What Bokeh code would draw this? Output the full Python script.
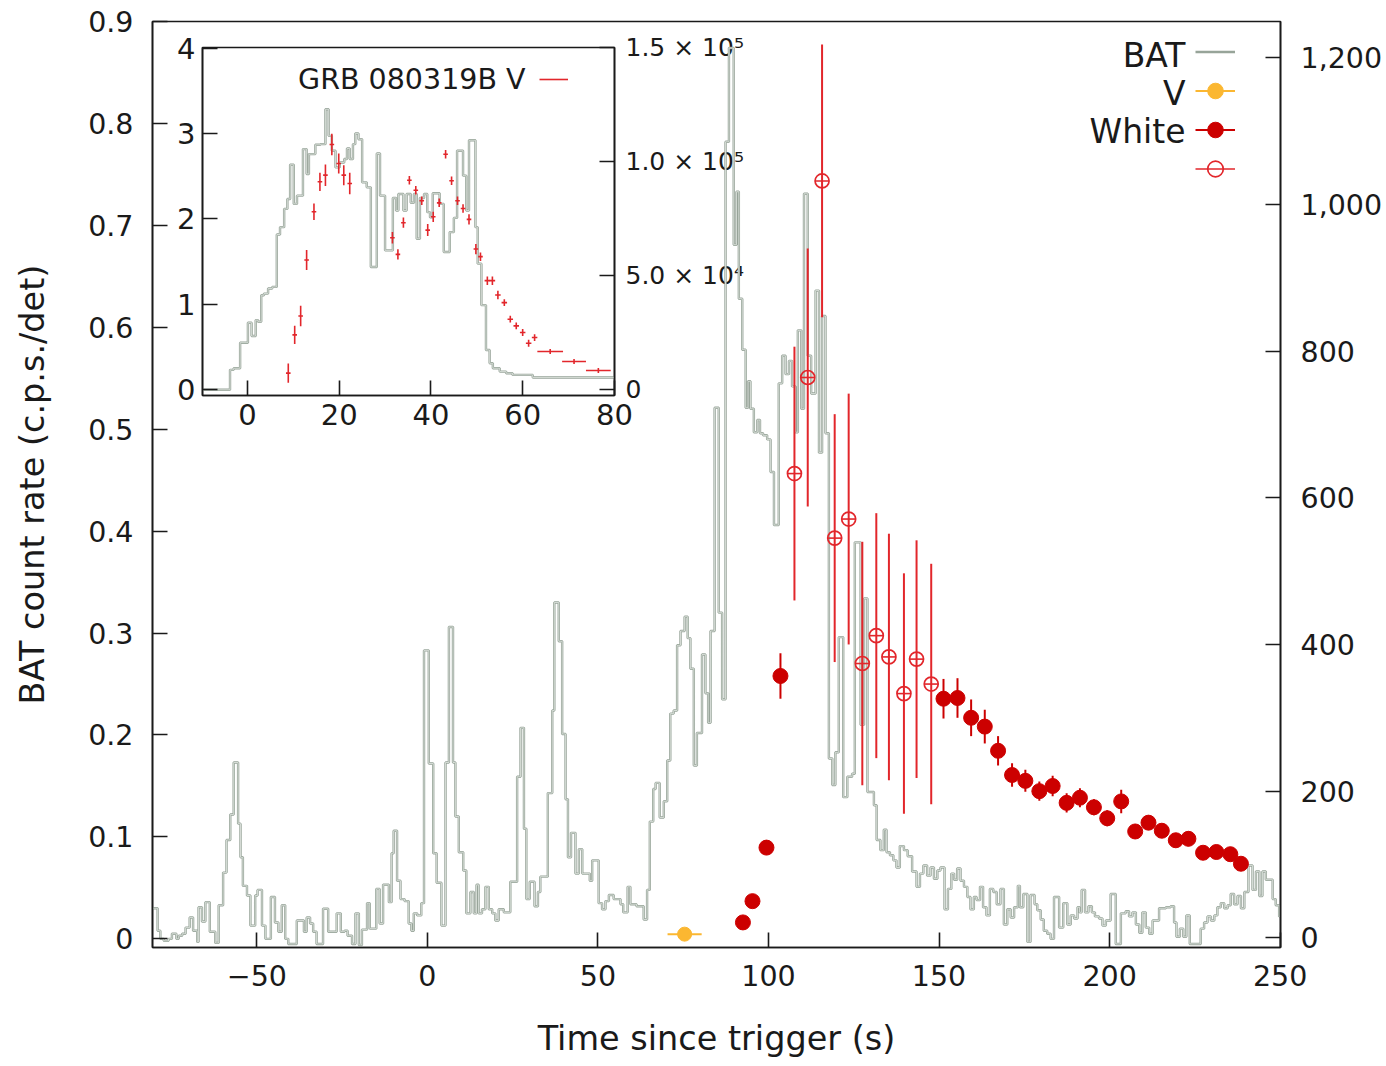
from bokeh.plotting import figure
from bokeh.models import Range1d, LinearAxis, FixedTicker, Legend, LegendItem, Label
from bokeh.layouts import row
from bokeh.embed import file_html
from bokeh.resources import INLINE

FONT = "DejaVu Sans"

# ---------------- main panel data ----------------
# BAT light curve (step start time [s], count rate [c.p.s./det])
bat_main = [
    (-81, 0.03), (-79.1, 0.008), (-78.3, 0.0), (-77.3, -0.002), (-75.9, 0.0), (-74.9, 0.005),
    (-73.6, 0.0), (-72.9, 0.003), (-71.9, 0.005), (-70.9, 0.011), (-69.7, 0.021), (-68.7, 0.008),
    (-67.5, -0.003), (-67.1, 0.031), (-66.1, 0.017), (-65.1, 0.036), (-63.8, 0.007), (-62.2, -0.004),
    (-61.2, 0.033), (-59.9, 0.065), (-58.9, 0.097), (-57.8, 0.122), (-56.8, 0.173), (-55.5, 0.113),
    (-54.8, 0.08), (-54.1, 0.052), (-52.9, 0.0425), (-51.9, 0.013), (-50.5, 0.0425), (-49.8, 0.048),
    (-48.5, 0.013), (-47.5, 0.0), (-45.9, 0.041), (-44.7, 0.016), (-43.7, 0.007), (-42.7, 0.033),
    (-41.7, 0.0), (-40.8, -0.005), (-38.3, 0.018), (-36.2, 0.007), (-35.4, 0.021), (-34.4, 0.015),
    (-33.5, 0.007), (-32.5, -0.005), (-30.6, 0.0295), (-29.1, 0.007), (-26.6, 0.025), (-25.4, 0.007),
    (-24.3, 0.008), (-23.4, 0.003), (-22.1, -0.005), (-21.1, 0.025), (-20.1, -0.006), (-19.2, 0.009),
    (-17.7, 0.035), (-16.9, 0.01), (-15.0, 0.049), (-14.0, 0.015), (-13.0, 0.053), (-11.3, 0.036),
    (-10.5, 0.084), (-9.9, 0.106), (-8.9, 0.057), (-7.9, 0.039), (-6.7, 0.037), (-5.5, 0.015),
    (-4.7, 0.008), (-4.0, 0.025), (-3.0, 0.023), (-1.8, 0.035), (-1.0, 0.283), (0.4, 0.172),
    (1.7, 0.084), (2.7, 0.055), (4.1, 0.013), (5.3, 0.173), (6.3, 0.306), (7.5, 0.173),
    (8.2, 0.12), (9.2, 0.085), (10.5, 0.067), (11.4, 0.025), (12.6, 0.046), (13.6, 0.025),
    (14.4, 0.053), (15.0, 0.025), (16.0, 0.029), (17.0, 0.051), (18.0, 0.029), (19.0, 0.025),
    (19.9, 0.018), (20.9, 0.029), (22.4, 0.026), (24.3, 0.056), (26.3, 0.159), (27.3, 0.207),
    (28.3, 0.108), (29.0, 0.039), (30.0, 0.056), (31.4, 0.032), (32.4, 0.046), (33.1, 0.061),
    (35.3, 0.143), (36.6, 0.224), (37.2, 0.33), (38.5, 0.292), (39.5, 0.201), (40.5, 0.137),
    (41.2, 0.08), (42.1, 0.104), (43.4, 0.064), (44.4, 0.088), (45.4, 0.064), (47.6, 0.057),
    (48.3, 0.077), (50.2, 0.035), (51.2, 0.029), (52.2, 0.037), (53.2, 0.043), (54.6, 0.039),
    (56.6, 0.034), (57.4, 0.026), (58.7, 0.051), (59.5, 0.034), (61.3, 0.032), (63.4, 0.019),
    (64.4, 0.048), (65.2, 0.115), (66.2, 0.147), (66.9, 0.153), (68.1, 0.119), (69.3, 0.135),
    (70.3, 0.175), (71.2, 0.221), (72.2, 0.224), (73.2, 0.288), (74.2, 0.302), (75.4, 0.316),
    (76.3, 0.295), (77.1, 0.265), (78.1, 0.17), (79.0, 0.202), (80.5, 0.279), (81.5, 0.241),
    (82.3, 0.212), (83.0, 0.302), (84.2, 0.521), (85.4, 0.32), (86.4, 0.235), (87.4, 0.782),
    (88.4, 0.874), (89.8, 0.681), (90.6, 0.733), (91.3, 0.628), (92.3, 0.578), (93.3, 0.521),
    (94.0, 0.547), (94.7, 0.52), (95.7, 0.497), (96.7, 0.509), (97.5, 0.496), (98.4, 0.494),
    (99.6, 0.49), (100.6, 0.458), (101.6, 0.406), (103.0, 0.545), (104.0, 0.572), (105.0, 0.554),
    (106.0, 0.567), (106.9, 0.542), (107.9, 0.497), (108.6, 0.597), (109.6, 0.52), (110.4, 0.731),
    (111.5, 0.572), (112.5, 0.535), (113.8, 0.636), (114.8, 0.477), (115.7, 0.611), (116.7, 0.496),
    (117.7, 0.177), (118.7, 0.151), (119.6, 0.183), (120.6, 0.296), (121.9, 0.139), (123.1, 0.159),
    (124.5, 0.162), (125.3, 0.389), (127.0, 0.21), (128.0, 0.334), (129.0, 0.144), (130.9, 0.131),
    (131.7, 0.097), (132.8, 0.087), (133.8, 0.107), (134.6, 0.085), (135.6, 0.082), (136.6, 0.077),
    (137.5, 0.070), (138.5, 0.091), (139.7, 0.087), (140.8, 0.081), (142.1, 0.066), (143.4, 0.051),
    (144.4, 0.064), (145.4, 0.072), (146.5, 0.062), (147.5, 0.070), (148.5, 0.059), (149.5, 0.067),
    (150.4, 0.070), (151.6, 0.029), (152.6, 0.049), (153.6, 0.064), (154.4, 0.058), (155.3, 0.069),
    (156.3, 0.057), (157.3, 0.051), (158.3, 0.041), (159.2, 0.029), (160.2, 0.041), (161.0, 0.038),
    (162.0, 0.051), (162.9, 0.031), (163.9, 0.023), (164.9, 0.049), (165.9, 0.046), (166.9, 0.034),
    (168.0, 0.049), (169.0, 0.014), (170.0, 0.029), (171.0, 0.021), (172.0, 0.031), (173.1, 0.052),
    (173.7, 0.031), (174.7, 0.044), (175.9, -0.003), (176.8, 0.043), (178.0, 0.034), (178.8, 0.028),
    (179.8, 0.019), (180.7, 0.008), (181.7, 0.005), (182.7, 0.0), (183.7, 0.041), (185.2, 0.011),
    (186.4, 0.035), (187.6, 0.014), (188.6, 0.023), (189.6, 0.020), (190.6, 0.031), (191.2, 0.026),
    (191.8, 0.048), (192.8, 0.026), (193.8, 0.032), (194.8, 0.026), (195.7, 0.022), (196.9, 0.020),
    (197.9, 0.013), (198.9, 0.018), (200.3, 0.044), (201.8, -0.005), (203.3, 0.025), (204.7, 0.027),
    (205.7, 0.022), (206.7, 0.026), (207.7, 0.014), (208.7, 0.006), (209.6, 0.026), (210.6, 0.011),
    (211.6, 0.005), (212.6, 0.018), (214.5, 0.03), (216.5, 0.031), (217.9, 0.032), (218.9, 0.016),
    (219.6, 0.002), (220.6, 0.01), (221.6, 0.002), (222.5, 0.023), (223.5, -0.005), (226.7, 0.01),
    (227.7, 0.016), (228.7, 0.022), (229.7, 0.018), (230.7, 0.023), (231.6, 0.031), (232.6, 0.035),
    (233.6, 0.03), (234.6, 0.033), (235.5, 0.044), (236.5, 0.034), (237.5, 0.042), (238.5, 0.03),
    (239.5, 0.046), (240.7, 0.072), (241.9, 0.048), (242.9, 0.066), (243.9, 0.042), (244.8, 0.066),
    (245.8, 0.058), (247.8, 0.039), (248.7, 0.033), (249.7, 0.022), (250.5, 0.022),
]
bat_t = [a for a, b in bat_main]
bat_rate = [b for a, b in bat_main]

# V band point (right axis)
v_t = [75.4]
v_val = [5]
v_terr = [5]

# White filled points (right axis)
white_t = [92.5, 95.3, 99.4, 103.5, 151.3, 155.4, 159.4, 163.4, 167.3, 171.4, 175.3, 179.4, 183.3,
           187.4, 191.3, 195.4, 199.3, 203.4, 207.5, 211.4, 215.3, 219.4, 223.1, 227.4, 231.3, 235.4, 238.5]
white_val = [21, 50, 123, 357, 326, 327, 300, 288, 255, 222, 214, 200, 207,
             184, 191, 178, 163, 186, 145, 157, 146, 133, 135, 116, 117, 114, 101]
white_err = [4, 4, 5, 31, 27, 27, 25, 23, 20, 16, 15, 13, 14,
             13, 13, 11, 11, 16, 10, 10, 10, 10, 10, 9, 9, 9, 9]

# White open points (right axis)
wopen_t = [107.6, 111.5, 115.7, 119.4, 123.5, 127.5, 131.6, 135.3, 139.7, 143.4, 147.7]
wopen_val = [633, 764, 1032, 545, 571, 374, 412, 383, 333, 380, 346]
wopen_err = [173, 176, 186, 169, 171, 166, 167, 168, 164, 162, 164]

# ---------------- inset data ----------------
bat_inset = [
    (-9.8, 0), (-3.8, 8750), (-3.0, 9460), (-1.6, 20670), (0.1, 29420), (0.9, 23590), (1.8, 30580),
    (2.3, 29830), (3.0, 41490), (3.6, 42200), (4.5, 44410), (5.4, 45120), (6.4, 68100), (7.1, 71320),
    (8.0, 79320), (8.7, 83690), (9.3, 98680), (10.1, 81530), (10.8, 85150), (12.1, 105560),
    (12.9, 94650), (13.4, 103360), (14.8, 107430), (15.9, 107730), (17.0, 123020), (17.7, 111350),
    (18.4, 104810), (19.2, 97530), (20.1, 99700), (21.1, 101190), (21.7, 105820), (22.3, 101190),
    (23.0, 107730), (23.5, 112360), (24.2, 109900), (25.0, 90980), (26.0, 88780), (26.9, 53870),
    (28.2, 103620), (28.9, 85150), (30.0, 61150), (31.7, 84140), (32.4, 78610), (32.9, 85860),
    (34.0, 78610), (34.7, 85860), (35.6, 82000), (36.3, 85860), (36.9, 66240), (37.6, 84140),
    (38.5, 85860), (39.2, 77900), (39.8, 75690), (40.4, 86160), (41.9, 81530), (42.8, 60410),
    (44.1, 69150), (45.0, 75390), (45.7, 104810), (47.0, 93900), (47.7, 78610), (48.3, 109440),
    (49.7, 71320), (50.2, 55320), (51.0, 37120), (52.0, 17460), (52.8, 11630), (53.5, 9460),
    (55.0, 8000), (56.4, 7290), (57.8, 6540), (62.2, 5380), (80.0, 5380),
]
ins_t = [a for a, b in bat_inset]
ins_counts = [b for a, b in bat_inset]

# GRB 080319B V-band flux (inset, left axis)
grb_t = [8.9, 10.3, 11.6, 12.9, 14.5, 15.8, 17.0, 18.4, 19.9, 21.0, 22.3, 31.6, 32.8, 34.0,
         35.3, 36.7, 38.0, 39.3, 40.5, 41.8, 43.2, 44.5, 45.8, 47.0, 48.3, 49.8, 50.8, 52.3,
         53.4, 54.6, 56.0, 57.3, 58.6, 60.0, 61.3, 62.6, 66.0, 71.2, 76.5]
grb_v = [0.195, 0.643, 0.864, 1.519, 2.083, 2.434, 2.512, 2.870, 2.648, 2.512, 2.414, 1.780, 1.585, 1.955,
         2.453, 2.336, 2.212, 1.869, 2.025, 2.188, 2.757, 2.446, 2.212, 2.122, 1.994, 1.647, 1.558, 1.277,
         1.277, 1.110, 1.020, 0.826, 0.748, 0.670, 0.545, 0.611, 0.448, 0.331, 0.226]
grb_verr = [0.113, 0.107, 0.12, 0.117, 0.097, 0.107, 0.126, 0.126, 0.117, 0.117, 0.126, 0.068, 0.06, 0.06,
            0.05, 0.05, 0.05, 0.07, 0.06, 0.05, 0.05, 0.05, 0.05, 0.05, 0.06, 0.06, 0.05, 0.05,
            0.05, 0.05, 0.04, 0.04, 0.04, 0.04, 0.04, 0.04, 0.03, 0.03, 0.03]
grb_terr = [0.5, 0.5, 0.5, 0.5, 0.5, 0.5, 0.5, 0.5, 0.5, 0.5, 0.5, 0.5, 0.5, 0.5,
            0.5, 0.5, 0.5, 0.5, 0.5, 0.5, 0.5, 0.5, 0.5, 0.5, 0.5, 0.5, 0.5, 0.6,
            0.6, 0.6, 0.6, 0.6, 0.6, 0.6, 0.6, 0.6, 2.8, 2.6, 2.7]

# tick labels
main_x_ticks = [-50, 0, 50, 100, 150, 200, 250]
main_y_ticks = [0, 0.1, 0.2, 0.3, 0.4, 0.5, 0.6, 0.7, 0.8, 0.9]
main_r_ticks = [0, 200, 400, 600, 800, 1000, 1200]
ins_x_ticks = [0, 20, 40, 60, 80]
ins_y_ticks = [0, 1, 2, 3, 4]
ins_r_ticks = [0, 50000, 100000, 150000]
ins_r_labels = ["0", "5.0 \u00d7 10\u2074", "1.0 \u00d7 10\u2075", "1.5 \u00d7 10\u2075"]

BAT_DARK = "#97a499"
BAT_LIGHT = "#e3e8e3"
RED_FILL = "#cc0000"
RED_OPEN = "#e2262b"
YELLOW = "#fbb731"
INK = "#1a1a1a"


def style_axis(ax, size, standoff):
    ax.axis_line_color = INK
    ax.axis_line_width = 1.6
    ax.major_tick_line_color = INK
    ax.major_tick_line_width = 1.6
    ax.major_tick_in = 15
    ax.major_tick_out = 0
    ax.minor_tick_line_color = None
    ax.major_label_text_font = FONT
    ax.major_label_text_font_size = size
    ax.major_label_text_color = INK
    ax.major_label_standoff = standoff
    ax.axis_label_text_font = FONT
    ax.axis_label_text_font_style = "normal"
    ax.axis_label_text_color = INK


# ---------------- main figure ----------------
p = figure(width=1386, height=1066, output_backend="svg", toolbar_location=None,
           x_range=Range1d(-80.6, 250.1), y_range=Range1d(-0.0085, 0.9),
           min_border_left=152, min_border_right=106, min_border_top=21, min_border_bottom=119)
p.extra_y_ranges = {"counts": Range1d(-13.2, 1249.4)}
p.grid.visible = False
p.outline_line_color = INK
p.outline_line_width = 1.6
p.background_fill_alpha = 0
p.border_fill_alpha = 0

xa = p.xaxis[0]
style_axis(xa, "28.5px", 17)
xa.ticker = FixedTicker(ticks=main_x_ticks)
xa.major_label_overrides = {t: ("\u2212" + str(-t) if t < 0 else str(t)) for t in main_x_ticks}
xa.axis_label = "Time since trigger (s)"
xa.axis_label_text_font_size = "33.5px"
xa.axis_label_standoff = 30

ya = p.yaxis[0]
style_axis(ya, "28.5px", 19)
ya.ticker = FixedTicker(ticks=main_y_ticks)
ya.major_label_overrides = {t: ("0" if t == 0 else "%.1f" % t) for t in main_y_ticks}
ya.axis_label = "BAT count rate (c.p.s./det)"
ya.axis_label_text_font_size = "33.5px"
ya.axis_label_standoff = 33

ra = LinearAxis(y_range_name="counts", ticker=FixedTicker(ticks=main_r_ticks))
style_axis(ra, "28.5px", 20)
ra.major_label_overrides = {t: "{:,}".format(t) for t in main_r_ticks}
p.add_layout(ra, "right")

bat_outer = p.step(bat_t, bat_rate, mode="after", line_color=BAT_DARK, line_width=2.4)
p.step(bat_t, bat_rate, mode="after", line_color=BAT_LIGHT, line_width=0.8)

# V point
v_seg = p.segment([t - e for t, e in zip(v_t, v_terr)], v_val, [t + e for t, e in zip(v_t, v_terr)], v_val,
                  line_color=YELLOW, line_width=2, y_range_name="counts")
v_dot = p.scatter(v_t, v_val, marker="circle", size=14, fill_color=YELLOW, line_color=YELLOW,
                  y_range_name="counts")

# open white points
o_yseg = p.segment(wopen_t, [v - e for v, e in zip(wopen_val, wopen_err)], wopen_t,
                   [v + e for v, e in zip(wopen_val, wopen_err)], line_color=RED_OPEN, line_width=2,
                   y_range_name="counts")
o_xseg = p.segment([t - 2 for t in wopen_t], wopen_val, [t + 2 for t in wopen_t], wopen_val,
                   line_color=RED_OPEN, line_width=1.6, y_range_name="counts")
o_dot = p.scatter(wopen_t, wopen_val, marker="circle", size=14, fill_color=None, line_color=RED_OPEN,
                  line_width=1.7, y_range_name="counts")

# filled white points
w_seg = p.segment(white_t, [v - e for v, e in zip(white_val, white_err)], white_t,
                  [v + e for v, e in zip(white_val, white_err)], line_color=RED_FILL, line_width=2,
                  y_range_name="counts")
w_dot = p.scatter(white_t, white_val, marker="circle", size=15, fill_color=RED_FILL, line_color=RED_FILL,
                  y_range_name="counts")

legend = Legend(items=[
    LegendItem(label="", renderers=[bat_outer]),
    LegendItem(label="", renderers=[v_seg, v_dot]),
    LegendItem(label="", renderers=[w_seg, w_dot]),
    LegendItem(label="", renderers=[o_xseg, o_dot]),
], location=(1043, 759), glyph_width=40, glyph_height=39, spacing=0, padding=0, margin=0,
    label_width=0, label_standoff=0, label_height=1, label_text_font_size="1px",
    background_fill_alpha=0, border_line_alpha=0)
p.add_layout(legend)

for txt, yy in (("BAT", 892), ("V", 854), ("White", 816)):
    p.add_layout(Label(x=1033, y=yy, x_units="screen", y_units="screen", text=txt,
                       text_align="right", text_baseline="middle", text_font=FONT,
                       text_font_size="33px", text_color=INK))

# ---------------- inset figure ----------------
inset = figure(width=612, height=488, output_backend="svg", toolbar_location=None,
               x_range=Range1d(-9.8, 80.02), y_range=Range1d(-0.067, 4.006),
               min_border_left=50, min_border_right=150, min_border_top=21, min_border_bottom=119)
inset.extra_y_ranges = {"counts": Range1d(-2490, 150100)}
inset.grid.visible = False
inset.background_fill_color = "white"
inset.border_fill_alpha = 0
inset.outline_line_color = INK
inset.outline_line_width = 1.6

ixa = inset.xaxis[0]
style_axis(ixa, "29px", 8)
ixa.ticker = FixedTicker(ticks=ins_x_ticks)
iya = inset.yaxis[0]
style_axis(iya, "29px", 7)
iya.ticker = FixedTicker(ticks=ins_y_ticks)
ira = LinearAxis(y_range_name="counts", ticker=FixedTicker(ticks=ins_r_ticks))
style_axis(ira, "25px", 11)
ira.major_label_overrides = dict(zip(ins_r_ticks, ins_r_labels))
inset.add_layout(ira, "right")

inset.step(ins_t, ins_counts, mode="after", line_color=BAT_DARK, line_width=2.4, y_range_name="counts")
inset.step(ins_t, ins_counts, mode="after", line_color=BAT_LIGHT, line_width=0.8, y_range_name="counts")

g_x = inset.segment([t - e for t, e in zip(grb_t, grb_terr)], grb_v, [t + e for t, e in zip(grb_t, grb_terr)],
                    grb_v, line_color=RED_OPEN, line_width=1.6)
inset.segment(grb_t, [v - e for v, e in zip(grb_v, grb_verr)], grb_t, [v + e for v, e in zip(grb_v, grb_verr)],
              line_color=RED_OPEN, line_width=1.6)

ileg = Legend(items=[LegendItem(label="", renderers=[g_x])], location=(337, 306), glyph_width=29,
              glyph_height=20, spacing=0, padding=0, margin=0, label_width=0, label_standoff=0,
              label_height=1, label_text_font_size="1px", background_fill_alpha=0, border_line_alpha=0)
inset.add_layout(ileg)
inset.add_layout(Label(x=323, y=316, x_units="screen", y_units="screen", text="GRB 080319B V",
                       text_align="right", text_baseline="middle", text_font=FONT,
                       text_font_size="28.5px", text_color=INK))

# place the inset over the main panel: it is drawn first, the transparent main panel on top
inset.margin = (26, -764, 0, 152)
layout = row(inset, p)

open("out.html", "w").write(file_html(layout, INLINE))
